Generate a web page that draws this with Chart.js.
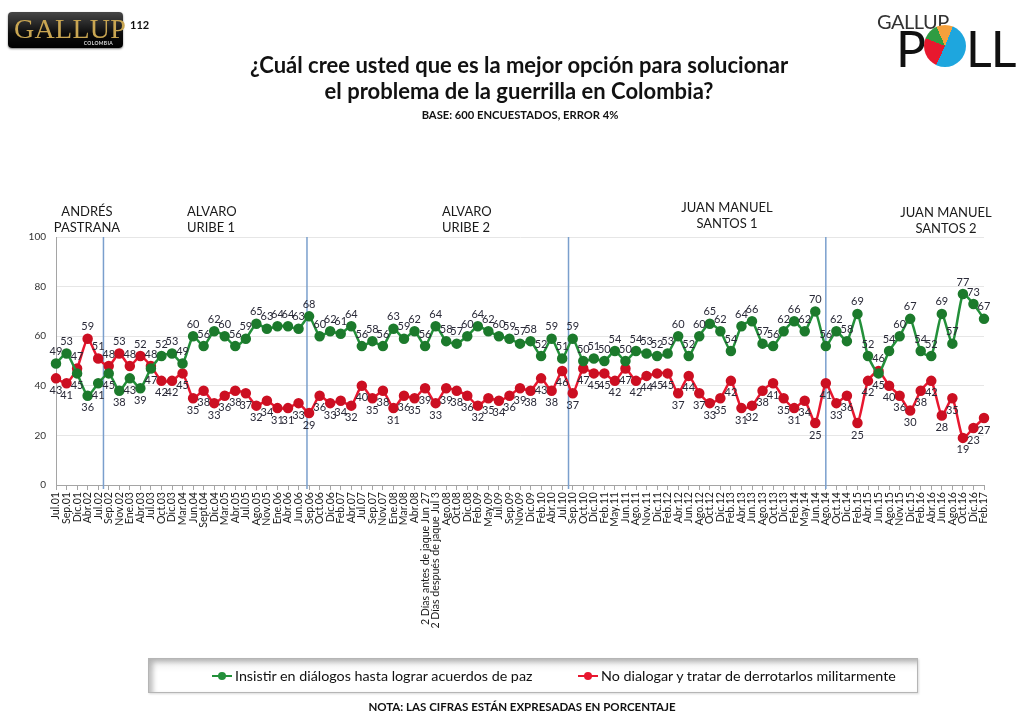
<!DOCTYPE html>
<html>
<head>
<meta charset="utf-8">
<script src="https://cdn.jsdelivr.net/npm/chart.js@4.4.0/dist/chart.umd.min.js"></script>
<style>
  html, body { margin: 0; padding: 0; background: #fff; }
  body { width: 1023px; height: 715px; position: relative; overflow: hidden; font-family: Lato, "Open Sans", sans-serif; color: #111; }
  #grafico { position: absolute; left: 0; top: 0; }
  .abs { position: absolute; white-space: nowrap; }
  .logo { left: 8px; top: 12px; width: 115px; height: 36px; border-radius: 4px;
          background: linear-gradient(#474747, #0c0c0c 60%, #000); box-shadow: 0 1px 2px rgba(0,0,0,.5); }
  .logo .g { position: absolute; left: 6px; top: 1px; font-family: "Liberation Serif", serif; font-size: 28px; color: #c9a652; letter-spacing: 0.3px; }
  .logo .c { position: absolute; right: 10px; bottom: 2px; font-size: 5px; font-weight: bold; color: #ddd; letter-spacing: .3px; }
  .num { left: 130px; top: 18px; font-size: 11px; font-weight: bold; }
  .poll1 { left: 877px; top: 9px; font-size: 20px; color: #333; letter-spacing: -0.5px; }
  .pollP { left: 896px; top: 18px; font-size: 50px; color: #111; }
  .pollL { left: 966px; top: 18px; font-size: 50px; color: #111; letter-spacing: -1px; }
  .pie { left: 924px; top: 25px; width: 42px; height: 42px; border-radius: 50%;
         background: conic-gradient(#f5a03c 0 22deg, #1ea6de 22deg 205deg, #e8182e 205deg 292deg, #2f9c42 292deg 336deg, #f5a03c 336deg 360deg); }
  .titulo { left: 0; top: 52px; width: 1038px; text-align: center; font-size: 22px; font-weight: bold; line-height: 26px; }
  .sub { left: 0; top: 108px; width: 1040px; text-align: center; font-size: 11.2px; font-weight: bold; line-height: 14px; }
  .pres { font-size: 13px; line-height: 16px; color: #1a1a1a; }
  .cen { text-align: center; }
  .leyenda { left: 148px; top: 658px; width: 768px; height: 33px; border: 1px solid #b5b5b5;
             background: linear-gradient(#efefef, #fff 40%); box-shadow: inset 4px 3px 5px rgba(0,0,0,.25), 1px 1px 2px rgba(0,0,0,.15); }
  .item { top: 667px; font-size: 14.3px; line-height: 18px; color: #111; }
  .marca { display: inline-block; position: relative; width: 20px; height: 2px; vertical-align: middle; margin-right: 3px; top: -1px; }
  .marca::after { content: ""; position: absolute; left: 6px; top: -3px; width: 8px; height: 8px; border-radius: 50%; background: inherit; }
  .nota { left: 0; top: 700px; width: 1044px; text-align: center; font-size: 11.5px; font-weight: bold; line-height: 14px; }
</style>
</head>
<body>
<canvas id="grafico" width="1023" height="715"></canvas>

<div class="abs logo"><span class="g">GALLUP</span><span class="c">COLOMBIA</span></div>
<div class="abs num">112</div>
<div class="abs poll1">GALLUP</div>
<div class="abs pollP">P</div>
<div class="abs pie"></div>
<div class="abs pollL">LL</div>

<div class="abs titulo">¿Cuál cree usted que es la mejor opción para solucionar<br>el problema de la guerrilla en Colombia?</div>
<div class="abs sub">BASE: 600 ENCUESTADOS, ERROR 4%</div>

<div class="abs pres cen" style="left:47px; top:203px; width:80px;">ANDRÉS<br>PASTRANA</div>
<div class="abs pres" style="left:187px; top:203px;">ALVARO<br>URIBE 1</div>
<div class="abs pres" style="left:442px; top:203px;">ALVARO<br>URIBE 2</div>
<div class="abs pres cen" style="left:667px; top:199px; width:120px;">JUAN MANUEL<br>SANTOS 1</div>
<div class="abs pres cen" style="left:886px; top:204px; width:120px;">JUAN MANUEL<br>SANTOS 2</div>

<div class="abs leyenda"></div>
<div class="abs item" style="left:212px;"><span class="marca" style="background:#23903a"></span>Insistir en diálogos hasta lograr acuerdos de paz</div>
<div class="abs item" style="left:578px;"><span class="marca" style="background:#e8172f"></span>No dialogar y tratar de derrotarlos militarmente</div>
<div class="abs nota">NOTA: LAS CIFRAS ESTÁN EXPRESADAS EN PORCENTAJE</div>

<script>
const fechas = ['Jul.01','Sep.01','Dic.01','Abr.02','Jul.02','Sep.02','Nov.02','Ene.03','Abr.03','Jul.03',
  'Oct.03','Dic.03','Mar.04','Jun.04','Sept.04','Dic.04','Mar.05','Abr.05','Jul.05','Ago.05',
  'Nov.05','Ene.06','Abr.06','Jun.06','Sep.06','Oct.06','Dic.06','Feb.07','Abr.07','Jul.07',
  'Sep.07','Nov.07','Ene.08','Mar.08','Abr.08','2 Días antes de jaque Jun 27','2 Días después de jaque Jul 3','Ago.08','Oct.08','Dic.08',
  'Feb.09','May.09','Jul.09','Sep.09','Nov.09','Dic.09','Feb.10','Abr.10','Jul.10','Sep.10',
  'Oct.10','Dic.10','Feb.11','May.11','Jun.11','Ago.11','Nov.11','Dic.11','Feb.12','Abr.12',
  'Jun.12','Ago.12','Oct.12','Dic.12','Feb.13','Abr.13','Jun.13','Ago.13','Oct.13','Dic.13',
  'Feb.14','May.14','Jun.14','Ago.14','Oct.14','Dic.14','Feb.15','Abr.15','Jun.15','Ago.15',
  'Nov.15','Dic.15','Feb.16','Abr.16','Jun.16','Ago.16','Oct.16','Dic.16','Feb.17'];

const insistir = [49,53,45,36,41,45,38,43,39,47,
  52,53,49,60,56,62,60,56,59,65,
  63,64,64,63,68,60,62,61,64,56,
  58,56,63,59,62,56,64,58,57,60,
  64,62,60,59,57,58,52,59,51,59,
  50,51,50,54,50,54,53,52,53,60,
  52,60,65,62,54,64,66,57,56,62,
  66,62,70,56,62,58,69,52,45,54,
  60,67,54,52,69,57,77,73,67];

const derrotar = [43,41,47,59,51,48,53,48,52,48,
  42,42,45,35,38,33,36,38,37,32,
  34,31,31,33,29,36,33,34,32,40,
  35,38,31,36,35,39,33,39,38,36,
  32,35,34,36,39,38,43,38,46,37,
  47,45,45,42,47,42,44,45,45,37,
  44,37,33,35,42,31,32,38,41,35,
  31,34,25,41,33,36,25,42,46,40,
  36,30,38,42,28,35,19,23,27];

// cambios de gobierno, en posiciones (fraccionarias) del eje de categorías
const cambiosGobierno = [4.5, 23.8, 48.6, 73];

const verde = '#23903a';
const rojo = '#e8172f';

const divisiones = {
  id: 'divisiones',
  beforeDatasetsDraw(chart) {
    const { ctx, chartArea, scales: { x } } = chart;
    ctx.save();
    ctx.strokeStyle = '#7a9fcd';
    ctx.lineWidth = 1.5;
    cambiosGobierno.forEach(v => {
      const px = x.getPixelForValue(v);
      ctx.beginPath();
      ctx.moveTo(px, chartArea.top);
      ctx.lineTo(px, chartArea.bottom + 4);
      ctx.stroke();
    });
    ctx.restore();
  }
};

const etiquetas = {
  id: 'etiquetas',
  afterDatasetsDraw(chart) {
    const { ctx } = chart;
    const sets = chart.data.datasets;
    ctx.save();
    ctx.font = '11px Lato';
    ctx.fillStyle = '#2a2a38';
    ctx.textAlign = 'center';
    ctx.textBaseline = 'middle';
    sets.forEach((ds, i) => {
      const otro = sets[1 - i].data;
      chart.getDatasetMeta(i).data.forEach((pt, j) => {
        const arriba = ds.data[j] >= otro[j];
        ctx.fillText(ds.data[j], pt.x, pt.y + (arriba ? -12 : 12));
      });
    });
    ctx.restore();
  }
};

new Chart(document.getElementById('grafico'), {
  type: 'line',
  data: {
    labels: fechas,
    datasets: [
      {
        label: 'Insistir en diálogos hasta lograr acuerdos de paz',
        data: insistir,
        borderColor: verde,
        backgroundColor: '#1c7a2c',
        pointBackgroundColor: '#1c7a2c',
        pointBorderColor: '#1c7a2c',
        pointRadius: 4,
        borderWidth: 2.5,
        tension: 0.2,
        clip: false
      },
      {
        label: 'No dialogar y tratar de derrotarlos militarmente',
        data: derrotar,
        borderColor: rojo,
        backgroundColor: '#cc0f22',
        pointBackgroundColor: '#cc0f22',
        pointBorderColor: '#cc0f22',
        pointRadius: 4,
        borderWidth: 2.5,
        tension: 0.2,
        clip: false
      }
    ]
  },
  options: {
    responsive: false,
    animation: false,
    layout: { padding: { top: 237, right: 39, bottom: 75, left: 0 } },
    plugins: { legend: { display: false }, tooltip: { enabled: false } },
    scales: {
      x: {
        grid: { drawOnChartArea: false, tickLength: 5, color: '#a5a5a5' },
        border: { color: '#a5a5a5' },
        ticks: { autoSkip: false, minRotation: 90, maxRotation: 90, padding: 2, color: '#1a1a1a', font: { family: 'Lato', size: 10.6 } },
        afterFit(s) { s.height = 155; }
      },
      y: {
        min: 0,
        max: 100,
        ticks: { stepSize: 20, padding: 10, color: '#333', font: { family: 'Lato', size: 10 } },
        grid: { color: '#e6e6e6', drawTicks: false },
        border: { color: '#a5a5a5' },
        afterFit(s) { s.width = 56; }
      }
    }
  },
  plugins: [divisiones, etiquetas]
});
</script>
</body>
</html>
